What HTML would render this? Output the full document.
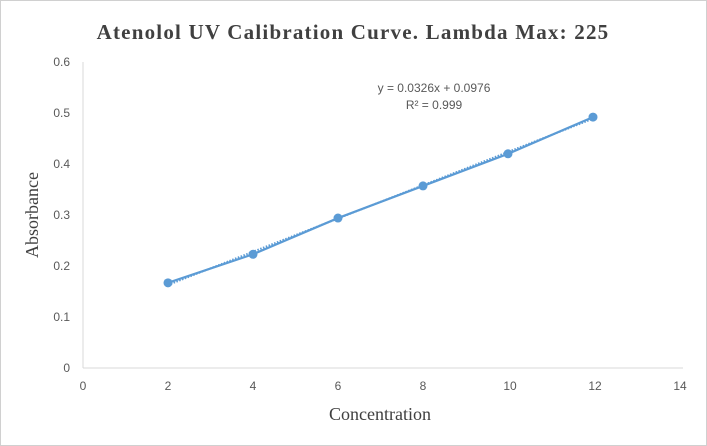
<!DOCTYPE html>
<html><head><meta charset="utf-8"><style>
html,body{margin:0;padding:0;background:#fff;}
svg{display:block;}
</style></head><body>
<svg width="707" height="446" viewBox="0 0 707 446" xmlns="http://www.w3.org/2000/svg">
<rect x="0.5" y="0.5" width="706" height="445" fill="#fff" stroke="#d0d0d0"/>
<text x="353" y="39" text-anchor="middle" font-family="Liberation Serif, serif" font-weight="bold" font-size="21" fill="#404040" letter-spacing="1.2">Atenolol UV Calibration Curve. Lambda Max: 225</text>
<g id="axes"></g>
<g id="marks"></g>
<text x="434" y="92" text-anchor="middle" font-family="Liberation Sans, sans-serif" font-size="12" fill="#595959">y = 0.0326x + 0.0976</text>
<text x="434" y="109" text-anchor="middle" font-family="Liberation Sans, sans-serif" font-size="12" fill="#595959">R² = 0.999</text>
<text x="380" y="420" text-anchor="middle" font-family="Liberation Serif, serif" font-size="18" fill="#404040">Concentration</text>
<text transform="translate(38,215) rotate(-90)" text-anchor="middle" font-family="Liberation Serif, serif" font-size="18" fill="#404040">Absorbance</text>
</svg>
<script>
const concentrations = [2, 4, 6, 8, 10, 12];
const absorbances = [0.167, 0.223, 0.294, 0.357, 0.420, 0.492];
const xTicks = [0, 2, 4, 6, 8, 10, 12, 14];
const yTicks = [0, 0.1, 0.2, 0.3, 0.4, 0.5, 0.6];
const slope = 0.0326, intercept = 0.0976;

const NS = 'http://www.w3.org/2000/svg';
const X0 = 83, X1 = 678, Y0 = 368, Y1 = 62;
const sx = v => X0 + (v - 0) / 14 * (X1 - X0);
const sy = v => Y0 - (v - 0) / 0.6 * (Y0 - Y1);
function mk(tag, attrs, parent){const e=document.createElementNS(NS,tag);for(const k in attrs)e.setAttribute(k,attrs[k]);parent.appendChild(e);return e;}
const axes = document.getElementById('axes'), marks = document.getElementById('marks');

const ya = mk('line',{x1:X0,y1:Y1,x2:X0,y2:Y0,stroke:'#d9d9d9','stroke-width':1},axes);


const xa = mk('line',{x1:X0,y1:Y0,x2:X1+5,y2:Y0,stroke:'#d9d9d9','stroke-width':1},axes);



xTicks.forEach(t=>{
  const e = mk('text',{x:sx(t)+(t>=10?2:0),y:Y0+22,'text-anchor':'middle','font-family':'Liberation Sans, sans-serif','font-size':12,fill:'#595959'},axes);
  e.textContent = t;
  
  
});
yTicks.forEach(t=>{
  const e = mk('text',{x:X0-13,y:sy(t)+4,'text-anchor':'end','font-family':'Liberation Sans, sans-serif','font-size':12,fill:'#595959'},axes);
  e.textContent = t === 0 ? '0' : t.toFixed(1);
  
  
});

const xmin = concentrations[0], xmax = concentrations[concentrations.length-1];
const tl = mk('line',{x1:sx(xmin),y1:sy(slope*xmin+intercept),x2:sx(xmax),y2:sy(slope*xmax+intercept),stroke:'#5b9bd5','stroke-width':2,'stroke-dasharray':'1.5 1.5'},marks);



const pts = concentrations.map((c,i)=>sx(c)+','+sy(absorbances[i])).join(' ');
const pl = mk('polyline',{points:pts,fill:'none',stroke:'#5b9bd5','stroke-width':2.2},marks);



concentrations.forEach((c,i)=>{
  const p = mk('circle',{cx:sx(c),cy:sy(absorbances[i]),r:4.5,fill:'#5b9bd5'},marks);
  
  
});
</script>
</body></html>
